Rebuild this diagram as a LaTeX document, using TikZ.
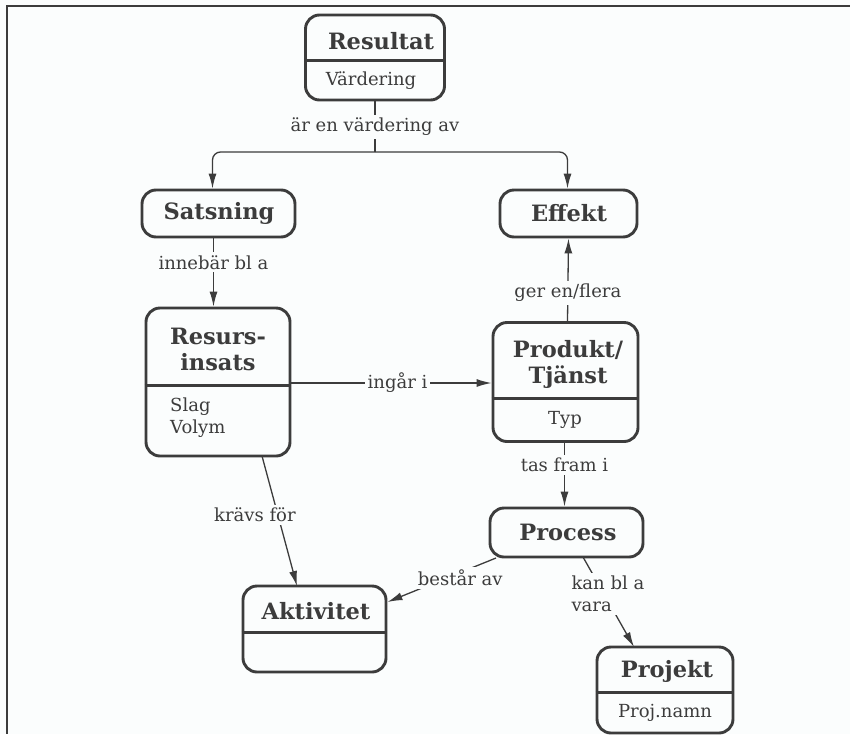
\documentclass[tikz,border=0pt]{standalone}
\usepackage{fontspec}
\setmainfont{DejaVu Serif}
\usetikzlibrary{arrows.meta}
\definecolor{ink}{HTML}{3C3C3C}
\definecolor{paper}{HTML}{FBFDFD}
\begin{document}
\begin{tikzpicture}[x=1pt,y=-1pt,
  box/.style={draw=ink, line width=2.9pt, rounded corners=14pt, inner sep=0pt},
  title/.style={font=\bfseries\fontsize{22.5}{26}\selectfont, text=ink, align=center, inner sep=0pt},
  body/.style={font=\fontsize{18}{22}\selectfont, text=ink, inner sep=0pt},
  lab/.style={body, fill=paper, inner sep=3pt},
  divider/.style={draw=ink, line width=3pt},
  conn/.style={draw=ink, line width=1.3pt},
  arr/.style={conn, -{Latex[length=15pt,width=8pt]}}]
\useasboundingbox[fill=paper] (0,0) rectangle (850,734);
% frame
\draw[ink, line width=2pt] (850,6) -- (7,6) -- (7,734);
% boxes
\node[box, minimum width=139pt, minimum height=85pt] (res) at (375,57.5) {};
\node[box, minimum width=153pt, minimum height=47pt] (sat) at (218.5,213.5) {};
\node[box, minimum width=137pt, minimum height=47pt] (eff) at (568.5,213.5) {};
\node[box, minimum width=144pt, minimum height=148pt] (rin) at (218,382) {};
\node[box, minimum width=145pt, minimum height=119pt] (pro) at (565.5,382) {};
\node[box, minimum width=153pt, minimum height=49pt] (prc) at (566.5,532.5) {};
\node[box, minimum width=143pt, minimum height=86pt] (akt) at (314.5,629) {};
\node[box, minimum width=136pt, minimum height=86pt] (prj) at (665,690) {};
% dividers
\draw[divider] (res.west |- 0,60) -- (res.east |- 0,60);
\draw[divider] (rin.west |- 0,385) -- (rin.east |- 0,385);
\draw[divider] (pro.west |- 0,398) -- (pro.east |- 0,398);
\draw[divider] (akt.west |- 0,632) -- (akt.east |- 0,632);
\draw[divider] (prj.west |- 0,692) -- (prj.east |- 0,692);
% texts
\node[title] (tres) at (381,41) {Resultat};
\node[body] (vres) at (371,81) {Värdering};
\node[title] (tsat) at (219,213) {Satsning};
\node[title] (teff) at (569,213) {Effekt};
\node[title] (trin) at (218,349) {Resurs-\\insats};
\node[body, align=left, anchor=west] (vrin) at (170,418) {Slag\\Volym};
\node[title] (tpro) at (568,364) {Produkt/\\Tjänst};
\node[body] (vpro) at (565,420) {Typ};
\node[title] (tprc) at (568,532) {Process};
\node[title] (takt) at (316,611) {Aktivitet};
\node[title] (tprj) at (667,671) {Projekt};
\node[body] (vprj) at (665,713) {Proj.namn};
% connectors
\draw[conn] (res.south) -- node[lab, pos=0.5] (l1) {är en värdering av} (375,152) coordinate (fork);
\draw[arr, rounded corners=8pt] (fork) -| ([xshift=-6pt]sat.north);
\draw[arr, rounded corners=8pt] (fork) -| ([xshift=-1pt]eff.north);
\draw[arr] ([xshift=-5pt]sat.south) -- node[lab, pos=0.35] (l2) {innebär bl a} ([xshift=-5pt]rin.north -| sat.south);
\draw[arr] (rin.east |- 0,383) -- node[lab, pos=0.53] (l3) {ingår i} (pro.west |- 0,383);
\draw[arr] ([xshift=2pt]pro.north) -- node[lab, pos=0.34] (l4) {ger en/flera} ([xshift=0pt]eff.south);
\draw[arr] ([xshift=-1pt]pro.south) -- node[lab, pos=0.34] (l5) {tas fram i} ([xshift=-2pt]prc.north);
\draw[arr] (496,558) -- node[lab, pos=0.33, yshift=-5pt] (l6) {består av} (akt.east |- 0,602);
\draw[arr] (262,456) -- node[lab, pos=0.454, xshift=-23pt] (l7) {krävs för} (297,586);
\draw[arr] (583,557) -- node[lab, align=left, pos=0.41, xshift=4pt] (l8) {kan bl a\\vara} (634,647);
\end{tikzpicture}
\end{document}
